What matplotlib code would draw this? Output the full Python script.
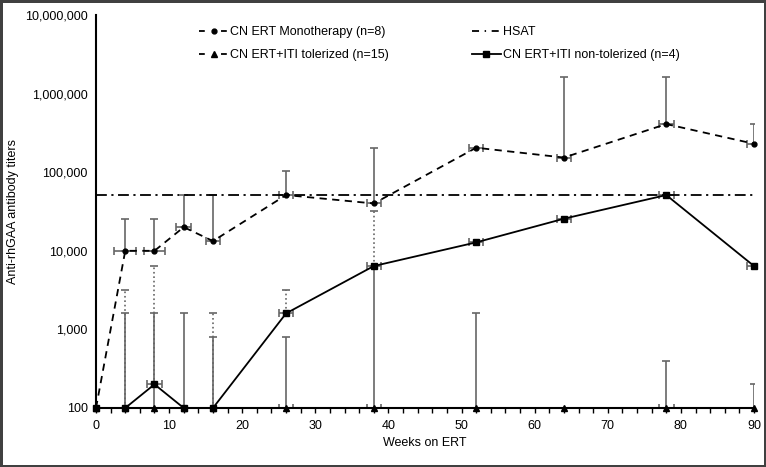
import matplotlib
matplotlib.use("Agg")
import matplotlib.pyplot as plt
import numpy as np
from matplotlib.lines import Line2D
from matplotlib.ticker import FixedLocator, MultipleLocator, FuncFormatter, NullLocator

plt.rcParams["font.family"] = ["Liberation Sans", "DejaVu Sans"]
plt.rcParams["font.size"] = 9

weeks = np.array([0, 4, 8, 12, 16, 26, 38, 52, 64, 78, 90])

# CN ERT monotherapy (n=8)
mono = np.array([100, 10000, 10000, 20000, 13300, 51200, 40000, 204800, 153600, 409600, 230000])
mono_err = np.array([0, 25600, 25600, 51200, 51200, 102400, 204800, 0, 1638400, 1638400, 409600])
mono_xerr = np.array([0, 1.5, 1.5, 1, 1, 1, 1, 1, 1, 1, 1])

# CN ERT+ITI tolerized (n=15)
tol = np.array([100, 100, 100, 100, 100, 100, 100, 100, 100, 100, 100])
tol_err = np.array([0, 1600, 1600, 1600, 800, 800, 6400, 1600, 0, 400, 200])
tol_xerr = np.array([0, 0, 0, 0, 0, 1, 1, 0, 0, 1, 0])

# CN ERT+ITI non-tolerized (n=4)
nontol = np.array([100, 100, 200, 100, 100, 1600, 6400, 12800, 25600, 51200, 6400])
nontol_err = np.array([0, 3200, 6400, 0, 1600, 3200, 32000, 0, 0, 0, 0])
nontol_xerr = np.array([0, 0, 1, 0, 0, 1, 1, 1, 1, 1, 1])

hsat = 51200

ERR = "#666666"


def draw_err(ax, x, y, up, xe, ls="-"):
    # upper-only vertical bars, then horizontal bars where present
    m = up > 0
    if m.any():
        eb = ax.errorbar(x[m], y[m], yerr=[np.zeros(m.sum()), up[m] - y[m]], fmt="none",
                         ecolor=ERR, elinewidth=1.2, capsize=3, capthick=1.2, zorder=2)
        eb[2][0].set_linestyle(ls)
    m = xe > 0
    if m.any():
        ax.errorbar(x[m], y[m], xerr=xe[m], fmt="none", ecolor=ERR,
                    elinewidth=1.2, capsize=3, capthick=1.2, zorder=2)


fig = plt.figure(figsize=(7.66, 4.67), dpi=100)
fig.patch.set_edgecolor("#404040")
fig.patch.set_linewidth(2.5)
ax = fig.add_axes([96 / 766, 1 - 408 / 467, (754 - 96) / 766, (408 - 15) / 467])

draw_err(ax, weeks, tol, tol_err, tol_xerr)
draw_err(ax, weeks, nontol, nontol_err, nontol_xerr, ls=":")
draw_err(ax, weeks, mono, mono_err, mono_xerr)

ax.axhline(hsat, color="black", lw=1.3, dashes=(6, 2.5, 1.2, 2.5), zorder=3)
ax.plot(weeks, mono, color="black", lw=1.3, dashes=(4, 3), marker="o", ms=3.5,
        clip_on=False, zorder=4)
ax.plot(weeks, tol, color="black", lw=1.3, dashes=(4, 3), marker="^", ms=5,
        clip_on=False, zorder=4)
ax.plot(weeks, nontol, color="black", lw=1.3, marker="s", ms=4,
        clip_on=False, zorder=5)

ax.set_yscale("log")
ax.set_ylim(100, 1e7)
ax.set_xlim(0, 90)
ax.yaxis.set_major_locator(FixedLocator([1e2, 1e3, 1e4, 1e5, 1e6, 1e7]))
ax.yaxis.set_minor_locator(NullLocator())
ax.yaxis.set_major_formatter(FuncFormatter(lambda v, p: f"{int(round(v)):,}"))
ax.xaxis.set_major_locator(MultipleLocator(10))
ax.xaxis.set_minor_locator(MultipleLocator(2))

for s in ["top", "right"]:
    ax.spines[s].set_visible(False)
for s in ["left", "bottom"]:
    ax.spines[s].set_linewidth(1.5)
ax.tick_params(axis="x", which="both", direction="out", length=3.5, width=1, pad=5)
ax.tick_params(axis="y", length=0, pad=6)

ax.set_xlabel("Weeks on ERT", labelpad=4)
ax.set_ylabel("Anti-rhGAA antibody titers")
ax.yaxis.set_label_coords(-0.117, 0.5)

# legend proxies: short dash, marker, short dash
h_mono = Line2D([], [], color="black", lw=1.3, dashes=(3.2, 9.0), marker="o", ms=3.5)
h_tol = Line2D([], [], color="black", lw=1.3, dashes=(3.2, 9.0), marker="^", ms=5)
h_hsat = Line2D([], [], color="black", lw=1.3, dashes=(3.9, 3.1, 0.8, 3.1))
h_non = Line2D([], [], color="black", lw=1.3, marker="s", ms=4)
fig.legend([h_mono, h_tol, h_hsat, h_non],
           ["CN ERT Monotherapy (n=8)", "CN ERT+ITI tolerized (n=15)",
            "HSAT", "CN ERT+ITI non-tolerized (n=4)"],
           ncol=2, loc="upper left", bbox_to_anchor=(193 / 766, 1 - 20 / 467),
           frameon=False, borderpad=0, handlelength=2.3, handletextpad=0.2,
           columnspacing=6.6, labelspacing=0.85, fontsize=9)

fig.savefig("out.png", dpi=100, edgecolor=fig.get_edgecolor())
